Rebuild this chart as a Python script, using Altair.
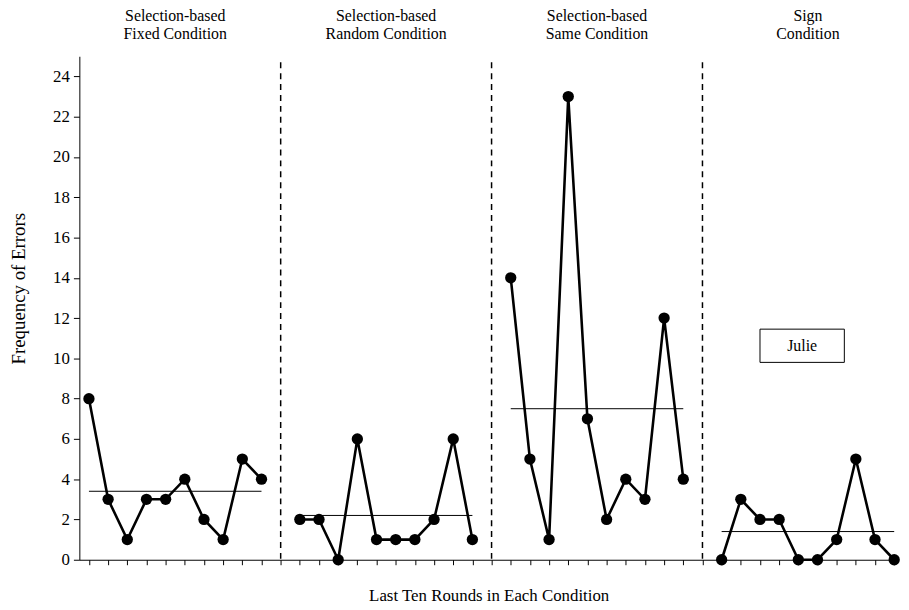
import altair as alt
import pandas as pd

conditions = ["Fixed", "Random", "Same", "Sign"]
title_line1 = ["Selection-based", "Selection-based", "Selection-based", "Sign"]
title_line2 = ["Fixed Condition", "Random Condition", "Same Condition", "Condition"]
fixed_vals = [8, 3, 1, 3, 3, 4, 2, 1, 5, 4]
random_vals = [2, 2, 0, 6, 1, 1, 1, 2, 6, 1]
same_vals = [14, 5, 1, 23, 7, 2, 4, 3, 12, 4]
sign_vals = [0, 3, 2, 2, 0, 0, 1, 5, 1, 0]
mean_vals = [3.4, 2.2, 7.5, 1.4]
mean_start = [0, 10.8, 22, 33]
mean_end = [9, 20, 31, 42]
divider_x = [10, 21, 32]
label_x = [4.5, 15.5, 26.5, 37.5]
box_x = [35.0]
box_x2 = [39.4]
box_y = [9.8]
box_y2 = [11.45]
box_label = ["Julie"]
box_label_x = [37.2]
box_label_y = [10.62]

series = [fixed_vals, random_vals, same_vals, sign_vals]
rows = []
for p, (c, vals) in enumerate(zip(conditions, series)):
    for i, v in enumerate(vals):
        rows.append({"cond": c, "x": p * 11 + i, "y": v})
df = pd.DataFrame(rows)

means = pd.DataFrame({"cond": conditions, "x": mean_start, "x2": mean_end, "y": mean_vals})
divs = pd.DataFrame({"x": divider_x, "y": [24.7] * 3, "y2": [0] * 3})
titles = pd.DataFrame({"x": label_x, "l1": title_line1, "l2": title_line2})
box = pd.DataFrame({"x": box_x, "x2": box_x2, "y": box_y, "y2": box_y2})
boxt = pd.DataFrame({"x": box_label_x, "y": box_label_y, "t": box_label})

FONT = "Liberation Serif"
xscale = alt.Scale(domain=[-0.5, 42.2], nice=False, zero=False)
yscale = alt.Scale(domain=[0, 25], nice=False)

xaxis = alt.Axis(title="Last Ten Rounds in Each Condition", values=list(range(0, 43)),
                 labels=False, grid=False, tickSize=5, tickColor="black",
                 domainColor="black", titleFontSize=17, titleFontWeight="normal",
                 titleFont=FONT, titleColor="black", titlePadding=23)
yaxis = alt.Axis(title="Frequency of Errors", values=list(range(0, 25, 2)),
                 grid=False, tickSize=6, tickColor="black", domainColor="black",
                 labelFontSize=17, labelFont=FONT, labelColor="black", labelPadding=4,
                 titleFontSize=19, titleFontWeight="normal", titleFont=FONT,
                 titleColor="black", titleX=-61, titleY=234, titleBaseline="middle")

xenc = alt.X("x:Q", scale=xscale, axis=xaxis)
yenc = alt.Y("y:Q", scale=yscale, axis=yaxis)

lines = alt.Chart(df).mark_line(color="black", strokeWidth=2.6).encode(x=xenc, y=yenc, detail="cond:N")
pts = alt.Chart(df).mark_circle(color="black", size=130, opacity=1).encode(x=xenc, y=yenc)
mean_rules = alt.Chart(means).mark_rule(color="black", strokeWidth=1).encode(
    x=xenc, x2="x2:Q", y=yenc)
div_rules = alt.Chart(divs).mark_rule(color="black", strokeWidth=1.5, strokeDash=[6, 5]).encode(
    x=xenc, y=yenc, y2="y2:Q")
t1 = alt.Chart(titles).mark_text(font=FONT, fontSize=16, color="black", baseline="middle").encode(
    x=xenc, y=alt.value(-41), text="l1:N")
t2 = alt.Chart(titles).mark_text(font=FONT, fontSize=16, color="black", baseline="middle").encode(
    x=xenc, y=alt.value(-22), text="l2:N")
rect = alt.Chart(box).mark_rect(fill="white", stroke="black", strokeWidth=1).encode(
    x=xenc, x2="x2:Q", y=yenc, y2="y2:Q")
rtext = alt.Chart(boxt).mark_text(font=FONT, fontSize=16, color="black", baseline="middle").encode(
    x=xenc, y=yenc, text="t:N")

chart = alt.layer(lines, div_rules, mean_rules, pts, rect, rtext, t1, t2).properties(
    width=826, height=508,
    autosize=alt.AutoSizeParams(type="none"),
    padding={"left": 72, "top": 46, "right": 3, "bottom": 48},
).configure_view(stroke=None)

chart.save("out.html", embed_options={"renderer": "svg", "actions": False})
